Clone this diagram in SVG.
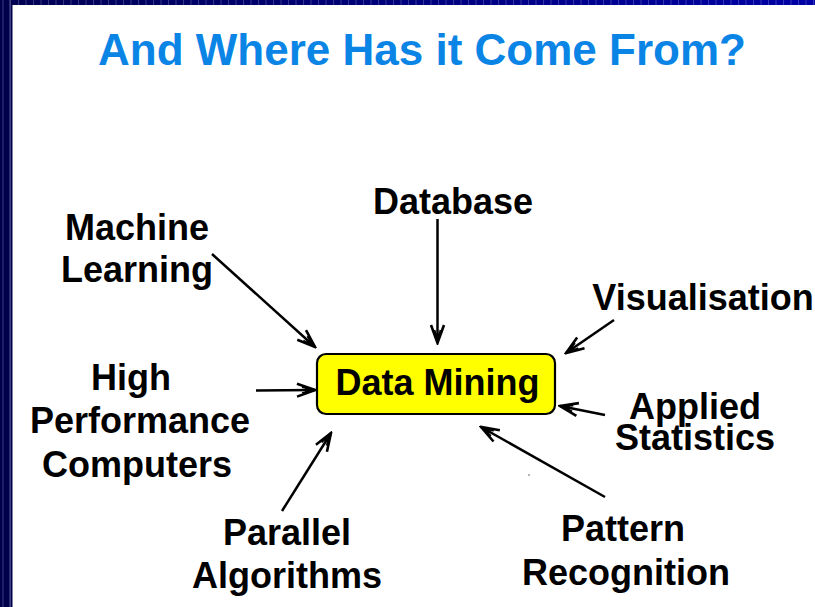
<svg xmlns="http://www.w3.org/2000/svg" width="815" height="607" viewBox="0 0 815 607">
  <defs>
    <linearGradient id="topg" x1="0" y1="0" x2="1" y2="0">
      <stop offset="0" stop-color="#000052"/>
      <stop offset="1" stop-color="#0000A6"/>
    </linearGradient>
    <pattern id="cells" x="3" y="0" width="7.5" height="6" patternUnits="userSpaceOnUse">
      <rect x="0" y="0" width="1" height="6" fill="#ffffff" fill-opacity="0.22"/>
    </pattern>
    <marker id="arr" markerUnits="userSpaceOnUse" viewBox="-22 -11 24 22" refX="0" refY="0" markerWidth="24" markerHeight="22" orient="auto">
      <path d="M-18,-6.5 L0,0 L-18,6.5" fill="none" stroke="#000" stroke-width="2.6" stroke-linejoin="miter"/>
      <path d="M-13,-2.8 L-4,-0.8 M-13,2.8 L-4,0.8" fill="none" stroke="#000" stroke-width="1.6"/>
      <path d="M1,0 L-11,-3.5 L-9,0 L-11,3.5 Z" fill="#000"/>
    </marker>
  </defs>
  <style>
    .lbl { font-family: "Liberation Sans", Arial, sans-serif; font-weight: bold; font-size: 36px; fill: #000; text-anchor: middle; }
    .title { font-family: "Liberation Sans", Arial, sans-serif; font-weight: bold; font-size: 44px; fill: #0A85E6; text-anchor: middle; }
    .conn { stroke: #000; stroke-width: 2.5; fill: none; marker-end: url(#arr); }
  </style>
  <rect x="0" y="0" width="815" height="607" fill="#ffffff"/>
  <g id="border">
    <rect x="0" y="0" width="815" height="5" fill="url(#topg)"/>
    <rect x="0" y="0" width="815" height="5" fill="url(#cells)"/>
    <rect x="0" y="0" width="12.5" height="607" fill="#00004A"/>
    <rect x="2.5" y="0" width="1" height="607" fill="#3A3A80"/>
    <rect x="9.5" y="0" width="1.2" height="607" fill="#5A5AA0"/>
  </g>
  <g id="title">
    <text class="title" x="422" y="65">And Where Has it Come From?</text>
  </g>
  <g id="connectors">
    <line class="conn" x1="212" y1="254" x2="315" y2="347"/>
    <line class="conn" x1="437.5" y1="219" x2="437.5" y2="343"/>
    <line class="conn" x1="614" y1="320" x2="566" y2="353"/>
    <line class="conn" x1="605" y1="415" x2="560" y2="406"/>
    <line class="conn" x1="605" y1="497" x2="481" y2="427"/>
    <line class="conn" x1="282" y1="511" x2="331" y2="433"/>
    <line class="conn" x1="256" y1="390.5" x2="315" y2="390"/>
    <circle cx="529" cy="475" r="0.8" fill="#555"/>
  </g>
  <g id="data-mining">
    <rect x="317" y="354" width="238" height="60" rx="9" ry="9" fill="#FFFF00" stroke="#000" stroke-width="2.2"/>
    <text class="lbl" x="437.5" y="395">Data Mining</text>
  </g>
  <g id="machine-learning">
    <text class="lbl" x="137" y="240">Machine</text>
    <text class="lbl" x="137" y="282">Learning</text>
  </g>
  <g id="database">
    <text class="lbl" x="453" y="214">Database</text>
  </g>
  <g id="visualisation">
    <text class="lbl" x="703" y="310">Visualisation</text>
  </g>
  <g id="applied-statistics">
    <text class="lbl" x="695" y="419">Applied</text>
    <text class="lbl" x="695" y="450">Statistics</text>
  </g>
  <g id="high-performance-computers">
    <text class="lbl" x="131" y="390">High</text>
    <text class="lbl" x="140" y="433">Performance</text>
    <text class="lbl" x="137" y="477">Computers</text>
  </g>
  <g id="parallel-algorithms">
    <text class="lbl" x="287" y="545">Parallel</text>
    <text class="lbl" x="287" y="588">Algorithms</text>
  </g>
  <g id="pattern-recognition">
    <text class="lbl" x="623" y="541">Pattern</text>
    <text class="lbl" x="626" y="585">Recognition</text>
  </g>
</svg>
